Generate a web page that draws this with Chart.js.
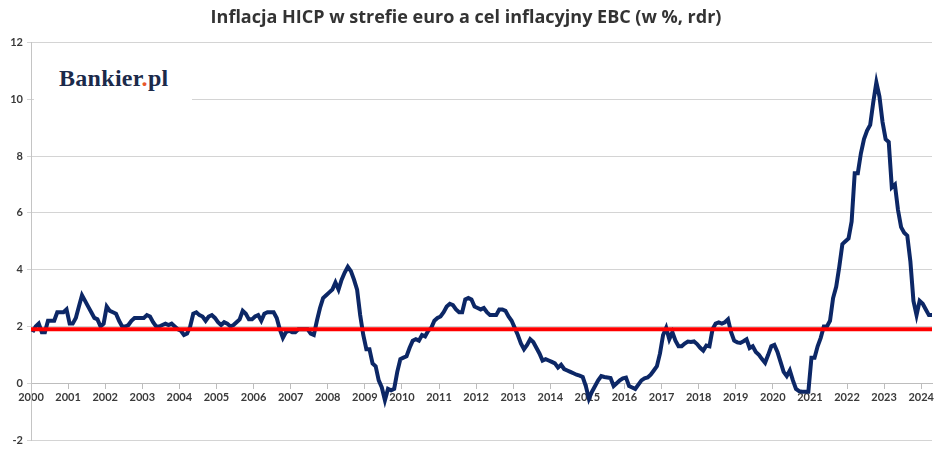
<!DOCTYPE html>
<html lang="pl">
<head>
<meta charset="utf-8">
<title>Inflacja HICP w strefie euro</title>
<script src="https://cdn.jsdelivr.net/npm/chart.js@4.4.1/dist/chart.umd.min.js"></script>
<style>
  html, body { margin: 0; padding: 0; background: #fff; }
  #wrap { position: relative; width: 948px; height: 449px; }
  #logo {
    position: absolute; left: 34px; top: 59px; width: 158px; height: 52px;
    background: #fff; box-sizing: border-box; padding-left: 25px; padding-top: 6px;
    font-family: "Liberation Serif", serif; font-weight: bold; font-size: 24px;
    color: #1b2a4a; letter-spacing: 0.3px;
  }
  #logo span { color: #e8562a; }
</style>
</head>
<body>
<div id="wrap">
  <canvas id="wykres" width="948" height="449"></canvas>
  <div id="logo">Bankier<span>.</span>pl</div>
</div>
<script>
const startYear = 2000;
const yearLabels = ['2000', '2001', '2002', '2003', '2004', '2005', '2006', '2007', '2008', '2009', '2010', '2011', '2012',
  '2013', '2014', '2015', '2016', '2017', '2018', '2019', '2020', '2021', '2022', '2023', '2024'];
const celEBC = 1.9;

// HICP r/r, miesiecznie od stycznia 2000 do kwietnia 2024
const hicp = [
  1.8, 2.0, 2.1, 1.8, 1.8, 2.2, 2.2, 2.2, 2.5, 2.5, 2.5, 2.6,       // 2000
  2.1, 2.1, 2.3, 2.7, 3.1, 2.9, 2.7, 2.5, 2.3, 2.25, 2.0, 2.1,      // 2001
  2.7, 2.55, 2.5, 2.45, 2.2, 2.0, 2.0, 2.05, 2.2, 2.3, 2.3, 2.3,    // 2002
  2.3, 2.4, 2.35, 2.15, 2.0, 2.0, 2.05, 2.1, 2.05, 2.1, 2.0, 1.9,   // 2003
  1.85, 1.7, 1.75, 2.0, 2.45, 2.5, 2.4, 2.35, 2.2, 2.35, 2.4, 2.3,  // 2004
  2.15, 2.05, 2.15, 2.1, 2.0, 2.05, 2.15, 2.25, 2.55, 2.45, 2.25, 2.25, // 2005
  2.35, 2.4, 2.2, 2.45, 2.5, 2.5, 2.5, 2.3, 1.9, 1.6, 1.8, 1.85,    // 2006
  1.8, 1.8, 1.9, 1.9, 1.9, 1.9, 1.75, 1.7, 2.2, 2.65, 3.0, 3.1,     // 2007
  3.2, 3.3, 3.55, 3.3, 3.65, 3.9, 4.1, 3.95, 3.65, 3.3, 2.4, 1.7,   // 2008
  1.2, 1.2, 0.7, 0.6, 0.1, -0.15, -0.6, -0.2, -0.25, -0.2, 0.4, 0.85, // 2009
  0.9, 0.95, 1.25, 1.5, 1.55, 1.5, 1.7, 1.65, 1.85, 1.95, 2.2, 2.3, // 2010
  2.35, 2.5, 2.7, 2.8, 2.75, 2.6, 2.5, 2.5, 2.95, 3.0, 2.95, 2.7,   // 2011
  2.65, 2.6, 2.65, 2.5, 2.4, 2.4, 2.4, 2.6, 2.6, 2.55, 2.35, 2.2,   // 2012
  1.95, 1.7, 1.4, 1.2, 1.35, 1.55, 1.45, 1.25, 1.05, 0.8, 0.85, 0.8, // 2013
  0.75, 0.7, 0.55, 0.65, 0.5, 0.45, 0.4, 0.35, 0.3, 0.27, 0.22, -0.1, // 2014
  -0.55, -0.3, -0.1, 0.1, 0.25, 0.22, 0.2, 0.18, -0.1, 0.0, 0.1, 0.17, // 2015
  0.2, -0.1, -0.15, -0.2, -0.05, 0.1, 0.17, 0.2, 0.3, 0.45, 0.6, 1.05, // 2016
  1.7, 1.95, 1.55, 1.8, 1.5, 1.3, 1.3, 1.4, 1.47, 1.45, 1.47, 1.38,  // 2017
  1.25, 1.15, 1.33, 1.3, 1.9, 2.1, 2.14, 2.1, 2.15, 2.25, 1.8, 1.5,  // 2018
  1.44, 1.42, 1.48, 1.55, 1.24, 1.3, 1.1, 1.0, 0.85, 0.72, 1.0, 1.3, // 2019
  1.35, 1.1, 0.75, 0.4, 0.25, 0.45, 0.1, -0.2, -0.28, -0.3, -0.3, -0.3, // 2020
  0.9, 0.9, 1.3, 1.6, 2.0, 2.0, 2.2, 3.0, 3.4, 4.1, 4.9, 5.0,       // 2021
  5.1, 5.7, 7.4, 7.4, 8.1, 8.6, 8.9, 9.1, 9.9, 10.6, 10.1, 9.2,     // 2022
  8.6, 8.5, 6.9, 7.0, 6.1, 5.5, 5.3, 5.2, 4.3, 2.9, 2.4, 2.9,       // 2023
  2.8, 2.6, 2.4, 2.4                                                // 2024
];

const yTicks = [-2, 0, 2, 4, 6, 8, 10, 12];

const punkty = hicp.map((v, i) => ({ x: i + 0.5, y: v }));
const koniec = hicp.length - 0.5;
const linieCelu = [{ x: 0, y: celEBC }, { x: koniec, y: celEBC }];

const fontTick = { family: 'Lato, "Open Sans", sans-serif', size: 11, weight: 'bold' };

new Chart(document.getElementById('wykres').getContext('2d'), {
  type: 'line',
  data: {
    datasets: [{
      label: 'Cel inflacyjny EBC',
      data: linieCelu,
      borderColor: '#ff0000',
      borderWidth: 4,
      pointRadius: 0,
      tension: 0
    }, {
      label: 'HICP',
      data: punkty,
      borderColor: '#0c2766',
      borderWidth: 4,
      pointRadius: 0,
      tension: 0,
      clip: false
    }]
  },
  options: {
    responsive: false,
    animation: false,
    layout: { padding: { left: 0, right: 16, top: 0, bottom: 9 } },
    plugins: {
      legend: { display: false },
      tooltip: { enabled: false },
      title: {
        display: true,
        text: 'Inflacja HICP w strefie euro a cel inflacyjny EBC (w %, rdr)',
        color: '#333333',
        font: { family: '"Open Sans", Lato, sans-serif', size: 18, weight: 'bold' },
        padding: { top: 7, bottom: 14 }
      }
    },
    scales: {
      x: {
        type: 'linear',
        min: 0,
        max: koniec,
        position: { y: 0 },
        afterBuildTicks: (scale) => {
          scale.ticks = yearLabels.map((_, i) => ({ value: i * 12 }));
        },
        ticks: {
          autoSkip: false,
          maxRotation: 0,
          padding: 3,
          color: '#3a3a3a',
          font: fontTick,
          callback: (v) => yearLabels[Math.round(v / 12)]
        },
        grid: { drawOnChartArea: false, tickLength: 5, color: '#bdbdbd' },
        border: { color: '#bdbdbd' }
      },
      y: {
        min: -2,
        max: 12,
        afterBuildTicks: (scale) => {
          scale.ticks = yTicks.map(v => ({ value: v }));
        },
        afterFit: (scale) => { scale.width = 31; },
        ticks: { color: '#3a3a3a', font: { ...fontTick, lineHeight: 0.8 }, padding: 4 },
        grid: { color: '#d4d4d4', tickLength: 4 },
        border: { color: '#c4c4c4' }
      }
    }
  }
});
</script>
</body>
</html>
